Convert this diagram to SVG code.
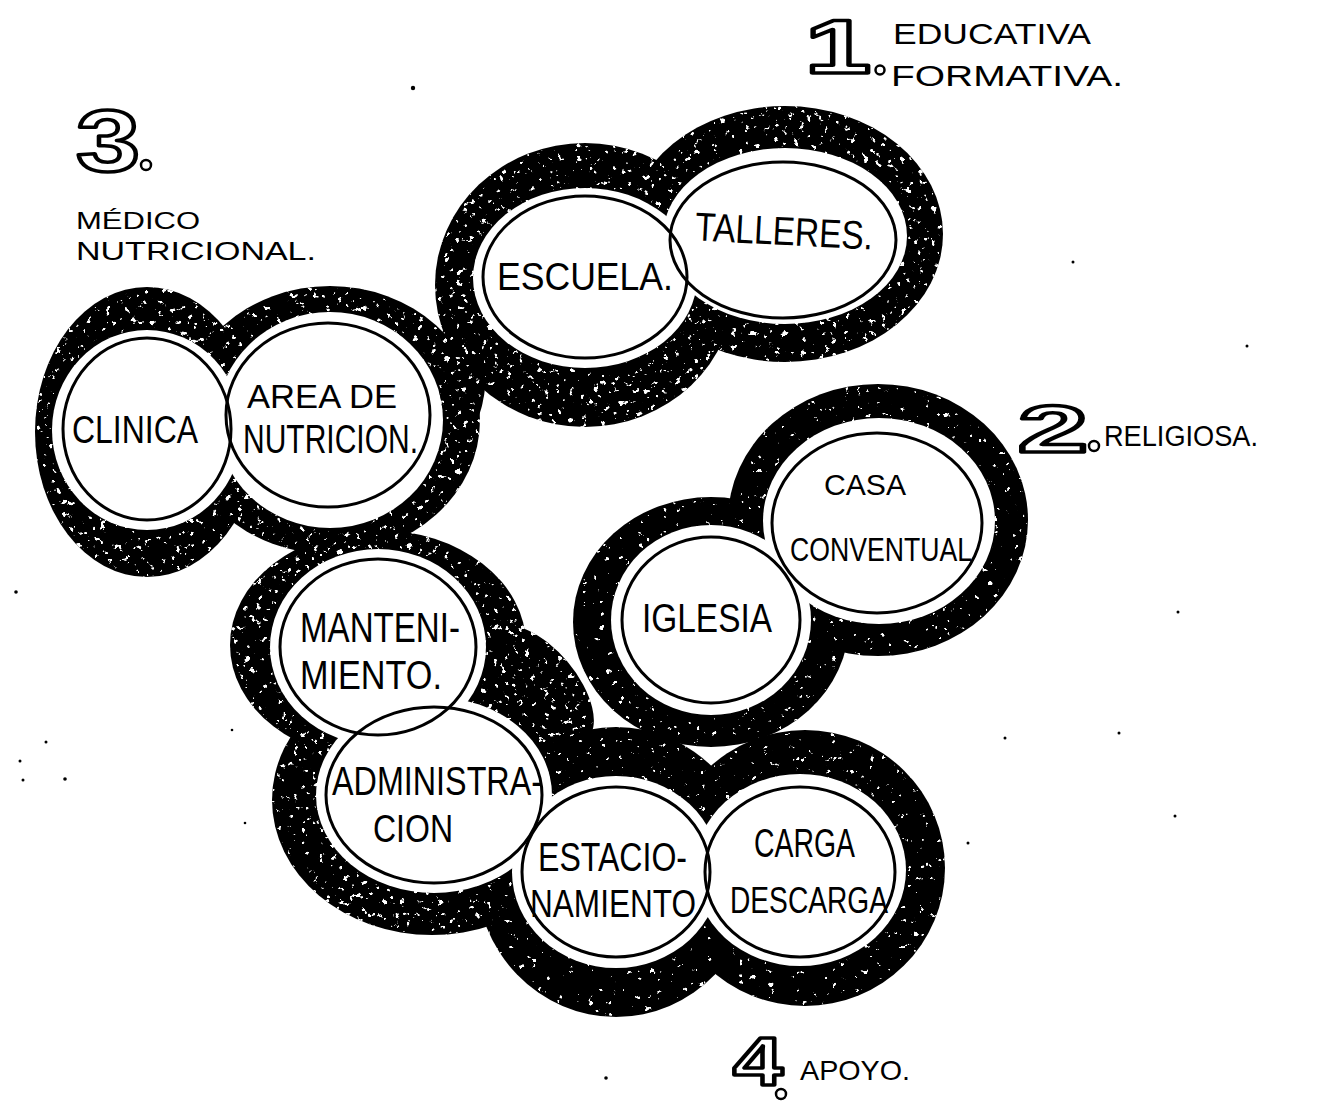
<svg xmlns="http://www.w3.org/2000/svg" width="1333" height="1102" viewBox="0 0 1333 1102">
<style>
  .lbl{font-family:"Liberation Sans",Arial,sans-serif;fill:#000;}
  .num{font-family:"Liberation Sans",Arial,sans-serif;font-weight:bold;fill:#fff;stroke:#000;stroke-width:3.5;stroke-linejoin:round;}
  .ring{fill:none;stroke:#000;stroke-width:3;}
  .inner{fill:#fff;}
  .ord{fill:#fff;stroke:#000;stroke-width:2.5;}
  .dot{fill:#000;}
  .dense{fill:#000;filter:url(#grainD);}
  .sparse{fill:#000;filter:url(#grainS);}
</style>
<defs>
  <filter id="grainD" x="-10%" y="-10%" width="120%" height="120%" color-interpolation-filters="sRGB">
    <feTurbulence type="fractalNoise" baseFrequency="0.16" numOctaves="3" seed="7" result="t"/>
    <feColorMatrix in="t" type="matrix" values="0 0 0 0 1  0 0 0 0 1  0 0 0 0 1  18 0 0 0 -11.9" result="w"/>
    <feComposite in="w" in2="SourceAlpha" operator="in" result="wi"/>
    <feMerge><feMergeNode in="SourceGraphic"/><feMergeNode in="wi"/></feMerge>
  </filter>
  <filter id="grainS" x="-10%" y="-10%" width="120%" height="120%" color-interpolation-filters="sRGB">
    <feTurbulence type="fractalNoise" baseFrequency="0.16" numOctaves="3" seed="11" result="t"/>
    <feColorMatrix in="t" type="matrix" values="0 0 0 0 1  0 0 0 0 1  0 0 0 0 1  20 0 0 0 -14.4" result="w"/>
    <feComposite in="w" in2="SourceAlpha" operator="in" result="wi"/>
    <feMerge><feMergeNode in="SourceGraphic"/><feMergeNode in="wi"/></feMerge>
  </filter>
</defs>
<rect width="1333" height="1102" fill="#fff"/>

<!-- Zone 3: medico nutricional -->
<g id="zone-medico">
  <g class="dense">
    <ellipse cx="147" cy="432" rx="112" ry="145"/>
    <ellipse cx="330" cy="420" rx="150" ry="134"/>
  </g>
  <g class="inner">
    <ellipse cx="147" cy="430" rx="95" ry="100"/>
    <ellipse cx="330" cy="420" rx="113" ry="108"/>
  </g>
</g>

<!-- Zone 1: educativa formativa -->
<g id="zone-educativa">
  <g class="dense">
    <ellipse cx="585" cy="285" rx="150" ry="142"/>
    <ellipse cx="785" cy="234" rx="158" ry="128"/>
    <ellipse cx="462" cy="370" rx="24" ry="65"/>
  </g>
  <g class="inner">
    <ellipse cx="585" cy="278" rx="112" ry="90"/>
    <ellipse cx="785" cy="236" rx="122" ry="88"/>
  </g>
</g>

<!-- Zone 2: religiosa -->
<g id="zone-religiosa">
  <g class="sparse">
    <ellipse cx="711" cy="622" rx="138" ry="125"/>
    <ellipse cx="878" cy="520" rx="150" ry="136"/>
  </g>
  <g class="inner">
    <ellipse cx="711" cy="620" rx="100" ry="95"/>
    <ellipse cx="879" cy="521" rx="116" ry="103"/>
  </g>
</g>

<!-- Zone 4: apoyo -->
<g id="zone-apoyo">
  <g class="dense">
    <ellipse cx="378" cy="645" rx="148" ry="115"/>
    <ellipse cx="432" cy="800" rx="160" ry="135"/>
    <ellipse cx="540" cy="685" rx="72" ry="36" transform="rotate(50 540 685)"/>
  </g>
  <g class="sparse">
    <ellipse cx="616" cy="872" rx="140" ry="145"/>
    <ellipse cx="805" cy="868" rx="140" ry="138"/>
  </g>
  <g class="inner">
    <ellipse cx="378" cy="647" rx="108" ry="98"/>
    <ellipse cx="434" cy="795" rx="118" ry="98"/>
    <ellipse cx="616" cy="872" rx="104" ry="96"/>
    <ellipse cx="800" cy="870" rx="106" ry="96"/>
  </g>
</g>

<!-- Nodes -->
<g id="node-escuela">
  <ellipse class="ring" cx="585" cy="277" rx="102" ry="81"/>
  <text class="lbl" x="497" y="290" font-size="38" textLength="176" lengthAdjust="spacingAndGlyphs">ESCUELA.</text>
</g>
<g id="node-talleres">
  <ellipse class="ring" cx="783" cy="240" rx="113" ry="78"/>
  <text class="lbl" x="695" y="245" font-size="40" textLength="178" lengthAdjust="spacingAndGlyphs" transform="rotate(3 785 235)">TALLERES.</text>
</g>
<g id="node-clinica">
  <ellipse class="ring" cx="147" cy="429" rx="84" ry="91"/>
  <text class="lbl" x="72" y="443" font-size="38" textLength="126" lengthAdjust="spacingAndGlyphs">CLINICA</text>
</g>
<g id="node-nutricion">
  <ellipse class="ring" cx="328" cy="415" rx="102" ry="92"/>
  <text class="lbl" x="247" y="408" font-size="34" textLength="150" lengthAdjust="spacingAndGlyphs">AREA DE</text>
  <text class="lbl" x="243" y="453" font-size="40" textLength="175" lengthAdjust="spacingAndGlyphs">NUTRICION.</text>
</g>
<g id="node-casa-conventual">
  <ellipse class="ring" cx="877" cy="523" rx="105" ry="90"/>
  <text class="lbl" x="824" y="495" font-size="30" textLength="82" lengthAdjust="spacingAndGlyphs">CASA</text>
  <text class="lbl" x="790" y="561" font-size="33" textLength="182" lengthAdjust="spacingAndGlyphs">CONVENTUAL</text>
</g>
<g id="node-iglesia">
  <ellipse class="ring" cx="711" cy="620" rx="89" ry="83"/>
  <text class="lbl" x="642" y="632" font-size="40" textLength="130" lengthAdjust="spacingAndGlyphs">IGLESIA</text>
</g>
<g id="node-mantenimiento">
  <ellipse class="ring" cx="378" cy="647" rx="98" ry="88"/>
  <text class="lbl" x="300" y="642" font-size="42" textLength="160" lengthAdjust="spacingAndGlyphs">MANTENI-</text>
  <text class="lbl" x="300" y="689" font-size="40" textLength="142" lengthAdjust="spacingAndGlyphs">MIENTO.</text>
</g>
<g id="node-administracion">
  <ellipse class="ring" cx="434" cy="795" rx="108" ry="88"/>
  <text class="lbl" x="332" y="795" font-size="40" textLength="210" lengthAdjust="spacingAndGlyphs">ADMINISTRA-</text>
  <text class="lbl" x="373" y="842" font-size="38" textLength="80" lengthAdjust="spacingAndGlyphs">CION</text>
</g>
<g id="node-estacionamiento">
  <ellipse class="ring" cx="616" cy="872" rx="94" ry="85"/>
  <text class="lbl" x="538" y="871" font-size="40" textLength="149" lengthAdjust="spacingAndGlyphs">ESTACIO-</text>
  <text class="lbl" x="530" y="917" font-size="38" textLength="166" lengthAdjust="spacingAndGlyphs">NAMIENTO</text>
</g>
<g id="node-carga-descarga">
  <ellipse class="ring" cx="800" cy="872" rx="95" ry="85"/>
  <text class="lbl" x="754" y="857" font-size="40" textLength="101" lengthAdjust="spacingAndGlyphs">CARGA</text>
  <text class="lbl" x="730" y="913" font-size="36" textLength="158" lengthAdjust="spacingAndGlyphs">DESCARGA</text>
</g>

<!-- Zone titles -->
<g id="title-1">
  <text class="num" x="805" y="73" font-size="76" textLength="66" lengthAdjust="spacingAndGlyphs">1</text>
  <circle class="ord" cx="880" cy="70" r="4.5"/>
  <text class="lbl" x="893" y="44" font-size="30" textLength="198" lengthAdjust="spacingAndGlyphs">EDUCATIVA</text>
  <text class="lbl" x="891" y="86" font-size="30" textLength="232" lengthAdjust="spacingAndGlyphs">FORMATIVA.</text>
</g>
<g id="title-2">
  <text class="num" x="1018" y="452" font-size="66" textLength="70" lengthAdjust="spacingAndGlyphs">2</text>
  <circle class="ord" cx="1094" cy="446" r="5"/>
  <text class="lbl" x="1104" y="446" font-size="30" textLength="154" lengthAdjust="spacingAndGlyphs">RELIGIOSA.</text>
</g>
<g id="title-3">
  <text class="num" x="76" y="171" font-size="88" textLength="64" lengthAdjust="spacingAndGlyphs">3</text>
  <circle class="ord" cx="146" cy="165" r="5"/>
  <text class="lbl" x="76" y="229" font-size="24" textLength="124" lengthAdjust="spacingAndGlyphs">MÉDICO</text>
  <text class="lbl" x="76" y="260" font-size="26" textLength="240" lengthAdjust="spacingAndGlyphs">NUTRICIONAL.</text>
</g>
<g id="title-4">
  <text class="num" x="733" y="1085" font-size="68" textLength="50" lengthAdjust="spacingAndGlyphs">4</text>
  <circle class="ord" cx="781" cy="1094" r="5"/>
  <text class="lbl" x="800" y="1080" font-size="28" textLength="110" lengthAdjust="spacingAndGlyphs">APOYO.</text>
</g>

<!-- stray marks -->
<g id="marks" class="dot">
  <circle cx="413" cy="88" r="2.2"/><circle cx="1073" cy="262" r="1.5"/><circle cx="1247" cy="346" r="1.5"/>
  <circle cx="1178" cy="612" r="1.5"/><circle cx="1005" cy="738" r="1.5"/><circle cx="1119" cy="733" r="1.5"/>
  <circle cx="1175" cy="816" r="1.5"/><circle cx="968" cy="843" r="1.5"/><circle cx="16" cy="592" r="1.8"/>
  <circle cx="46" cy="742" r="1.5"/><circle cx="20" cy="761" r="1.5"/><circle cx="23" cy="780" r="1.5"/>
  <circle cx="65" cy="779" r="1.8"/><circle cx="232" cy="730" r="1.3"/><circle cx="245" cy="823" r="1.3"/>
  <circle cx="606" cy="1078" r="1.8"/>
</g>
</svg>
